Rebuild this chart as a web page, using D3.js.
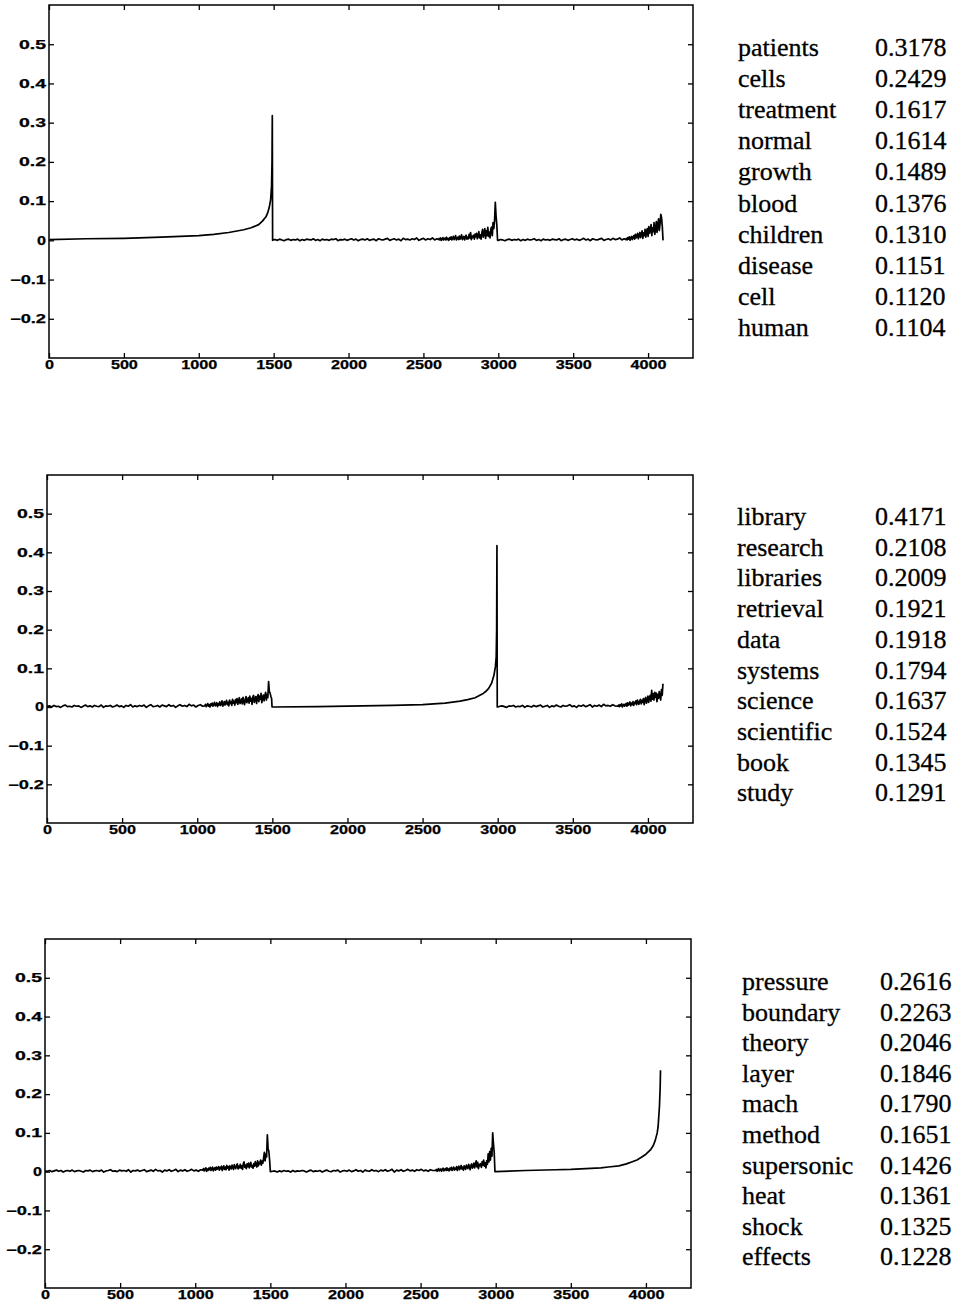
<!DOCTYPE html>
<html>
<head>
<meta charset="utf-8">
<script src="https://cdn.jsdelivr.net/npm/d3@7"></script>
<style>
body { margin: 0; background: #fff; }
svg { display: block; }
.tick text { font-family: "Liberation Sans", Arial, sans-serif; font-weight: bold; font-size: 12px; fill: #000; stroke: #000; stroke-width: 0.25px; }
.terms text { font-family: "Liberation Serif", "Times New Roman", serif; font-size: 26px; fill: #000; stroke: #000; stroke-width: 0.3px; }
</style>
</head>
<body>
<div id="chart"></div>
<script>
const W = 957, H = 1306;

// axis ticks
const xTicks = [0, 500, 1000, 1500, 2000, 2500, 3000, 3500, 4000];
const yTicks = [-0.2, -0.1, 0, 0.1, 0.2, 0.3, 0.4, 0.5];
const xDomain = [0, 4300];
const yDomain = [-0.3, 0.6];

// top terms of each topic
const medTerms = ["patients", "cells", "treatment", "normal", "growth", "blood", "children", "disease", "cell", "human"];
const medWeights = [0.3178, 0.2429, 0.1617, 0.1614, 0.1489, 0.1376, 0.1310, 0.1151, 0.1120, 0.1104];
const libTerms = ["library", "research", "libraries", "retrieval", "data", "systems", "science", "scientific", "book", "study"];
const libWeights = [0.4171, 0.2108, 0.2009, 0.1921, 0.1918, 0.1794, 0.1637, 0.1524, 0.1345, 0.1291];
const mechTerms = ["pressure", "boundary", "theory", "layer", "mach", "method", "supersonic", "heat", "shock", "effects"];
const mechWeights = [0.2616, 0.2263, 0.2046, 0.1846, 0.1790, 0.1651, 0.1426, 0.1361, 0.1325, 0.1228];

// ---- panel 1 vector (term index, weight) ----
const medRise = [[1,0.002],[250,0.004],[500,0.005],[750,0.008],[1000,0.012],[1100,0.015],[1200,0.020],[1300,0.027],
  [1350,0.032],[1400,0.040],[1425,0.049],[1450,0.061],[1460,0.070],[1470,0.083],[1480,0.104],[1486,0.138],
  [1489,0.2],[1491,0.3178],[1493,0.0]];
// from 1495, every 15
const medQuietA = [.001,.002,.000,.003,.001,-.001,.002,.003,.000,.002,
  .001,.003,-.001,.002,.000,.003,.002,.001,.004,.000,
  .002,-.001,.003,.001,.002,.000,.003,.002,.004,-.001,
  .002,.001,.003,.000,.002,.004,.001,.003,-.001,.002,
  .003,.001,.004,.000,.002,.003,-.001,.004,.002,.001,
  .003,.005,.000,.002,.004,.001,.003,-.001,.005,.002,
  .003,.001,.004,.002,.006,.000,.003,.005,.001,.004,
  .002,.006,.001,.004];
// from 2600, every 5
const medSpikyA = [.002,.005,.001,.006,.000,.004,.007,.001,.003,.006,
  .001,.008,.002,.004,.000,.007,.003,.009,.001,.005,
  .010,.002,.006,.012,.001,.004,.008,.002,.011,.003,
  .007,.014,.002,.006,.010,.001,.009,.013,.003,.008,
  .004,.015,.006,.020,.002,.011,.007,.013,.003,.016,
  .009,.018,.004,.012,.022,.006,.014,.003,.019,.028,
  .008,.017,.030,.005,.024,.012,.033,.010,.021,.006,
  .028,.034,.012,.045,.030,.050,.097,.062,.040,.000];
// from 3000, every 15
const medQuietB = [.000,.002,.001,-.001,.002,.003,.000,.002,.001,.003,
  -.001,.002,.000,.003,.001,.002,.004,.000,.002,-.001,
  .003,.001,.002,.000,.003,.002,.001,.004,-.001,.002,
  .003,.000,.002,.004,.001,.003,.000,.002,.005,.001,
  .003,-.001,.004,.002,.001,.003,.005,.000,.002,.004,
  .001,.005,.002,.003,.006,.001,.004];
// from 3850, every 5
const medSpikyB = [.002,.005,.001,.007,.003,.009,.000,.006,.010,.002,
  .008,.012,.003,.015,.006,.011,.018,.004,.013,.020,
  .007,.016,.024,.005,.019,.012,.028,.008,.022,.030,
  .010,.035,.018,.026,.040,.012,.032,.022,.045,.015,
  .030,.048,.020,.038,.055,.025,.042,.066,.058,.035,
  .000];

// ---- panel 2 vector ----
// from 1, every 15
const libQuietA = [.002,.003,.000,.004,.001,.002,-.001,.003,.005,.001,
  .002,.000,.004,.002,.003,-.001,.002,.005,.001,.003,
  .000,.004,.002,.001,.005,-.001,.003,.002,.004,.000,
  .002,.005,.001,.003,-.001,.004,.002,.006,.000,.003,
  .001,.004,.002,.005,-.001,.003,.006,.001,.002,.004,
  .000,.005,.003,.001,.006,.002,.004,-.001,.003,.006,
  .002,.004,.001,.007,.003,.005,.000,.004,.006,.002];
// from 1050, every 5
const libSpikyA = [.003,.007,.001,.005,.009,.002,.006,.000,.008,.004,
  .010,.002,.007,.012,.003,.006,.011,.001,.009,.005,
  .013,.004,.010,.016,.002,.008,.014,.005,.011,.017,
  .006,.012,.003,.018,.009,.014,.004,.020,.010,.015,
  .005,.019,.011,.022,.007,.016,.024,.009,.013,.021,
  .008,.025,.014,.006,.020,.027,.011,.018,.024,.010,
  .028,.015,.022,.007,.026,.030,.012,.019,.027,.009,
  .024,.032,.014,.028,.020,.035,.011,.025,.031,.016,
  .029,.038,.018,.033,.024,.066,.040,.036,.028,.022];
const libRise = [[1498,0.000],[1800,0.001],[2100,0.003],[2300,0.004],[2500,0.006],[2650,0.010],[2750,0.015],
  [2800,0.019],[2850,0.024],[2875,0.029],[2900,0.034],[2920,0.040],[2940,0.048],[2960,0.062],[2975,0.082],
  [2985,0.105],[2990,0.13],[2993,0.2],[2995,0.4171],[2997,0.0]];
// from 3000, every 15
const libQuietB = [.000,.002,.003,.001,-.001,.003,.002,.004,.000,.002,
  .001,.004,-.001,.003,.002,.000,.004,.001,.003,.005,
  .000,.002,.004,-.001,.003,.001,.005,.002,.000,.004,
  .002,.003,.006,.001,.003,-.001,.004,.002,.005,.001,
  .003,.006,.000,.004,.002,.005,.001,.007,.003,.004,
  .002,.006,.003];
// from 3800, every 5
const libSpikyB = [.002,.005,.001,.006,.003,.008,.000,.004,.007,.002,
  .006,.009,.002,.011,.005,.008,.013,.003,.010,.006,
  .014,.004,.012,.009,.016,.006,.018,.011,.007,.015,
  .020,.008,.017,.012,.022,.006,.019,.025,.010,.016,
  .028,.012,.024,.030,.015,.043,.020,.034,.018,.038,
  .025,.036,.014,.033,.022,.040,.028,.018,.045,.030,
  .060];

// ---- panel 3 vector ----
// from 1, every 15
const mechQuietA = [.002,.001,.003,.000,.002,.004,.001,.003,-.001,.002,
  .003,.001,.004,.000,.002,.003,.001,-.001,.003,.002,
  .004,.000,.002,.003,.001,.004,-.001,.002,.003,.005,
  .001,.002,.000,.004,.002,.003,.001,.005,-.001,.003,
  .002,.004,.001,.003,.005,.000,.002,.004,.001,.006,
  .002,.003,-.001,.004,.002,.005,.001,.003,.006,.000,
  .004,.002,.005,.001,.003,.006,.002,.004,.001,.005];
// from 1050, every 5
const mechSpikyA = [.004,.008,.002,.006,.010,.001,.007,.003,.009,.005,
  .011,.003,.008,.012,.002,.007,.010,.004,.012,.006,
  .009,.013,.004,.011,.007,.014,.003,.010,.015,.006,
  .012,.005,.016,.009,.013,.004,.015,.010,.007,.017,
  .011,.006,.018,.012,.008,.016,.020,.007,.014,.010,
  .019,.009,.015,.006,.021,.025,.011,.017,.008,.020,
  .013,.022,.010,.018,.024,.012,.016,.009,.021,.014,
  .026,.018,.012,.028,.015,.024,.020,.030,.017,.027,
  .022,.035,.050,.028,.045,.038,.095,.060,.052,.030];
// from 1500, every 15
const mechQuietB = [.000,.001,.002,-.001,.002,.000,.003,.001,.002,-.001,
  .003,.000,.002,.001,.003,.002,-.001,.002,.004,.000,
  .002,.001,.003,-.001,.002,.004,.001,.000,.003,.002,
  .004,-.001,.002,.003,.001,.004,.000,.002,.005,.001,
  .003,-.001,.004,.002,.001,.005,.002,.003,.000,.004,
  .002,.005,.001,.003,.006,-.001,.004,.002,.005,.001,
  .003,.006,.002,.004,.001,.005,.003,.006,.002,.004,
  .001,.005,.003];
// from 2600, every 5
const mechSpikyB = [.003,.006,.001,.005,.008,.002,.004,.007,.001,.006,
  .009,.002,.005,.008,.003,.010,.004,.007,.002,.009,
  .005,.011,.003,.008,.012,.004,.009,.006,.013,.003,
  .010,.014,.005,.009,.016,.007,.012,.004,.015,.010,
  .006,.017,.011,.008,.019,.013,.005,.016,.020,.009,
  .014,.022,.010,.018,.028,.012,.024,.008,.019,.015,
  .021,.011,.026,.017,.030,.014,.023,.010,.028,.019,
  .046,.025,.052,.030,.060,.040,.100,.072,.050,.000];
const mechRise = [[2998,0.0],[3200,0.003],[3400,0.005],[3500,0.006],[3600,0.008],[3700,0.010],[3750,0.012],
  [3820,0.015],[3870,0.020],[3905,0.025],[3940,0.030],[3970,0.037],[4000,0.045],[4030,0.056],[4050,0.068],
  [4063,0.082],[4075,0.100],[4081,0.116],[4090,0.168],[4095,0.22],[4097,0.2616]];

// weights sampled every `step` term indices from `start`
function seq(start, step, vals) {
  return vals.map((v, i) => [start + i * step, v]);
}

const panels = [
  {
    series: [...medRise, ...seq(1495, 15, medQuietA), ...seq(2600, 5, medSpikyA), ...seq(3000, 15, medQuietB), ...seq(3850, 5, medSpikyB)],
    terms: medTerms, weights: medWeights,
    box: {x0: 49, x1: 693, y0: 5, y1: 358},
    list: {wx: 738, nx: 875, y: 56, dy: 31.1}
  },
  {
    series: [...seq(1, 15, libQuietA), ...seq(1050, 5, libSpikyA), ...libRise, ...seq(3000, 15, libQuietB), ...seq(3800, 5, libSpikyB)],
    terms: libTerms, weights: libWeights,
    box: {x0: 47, x1: 693, y0: 475, y1: 823},
    list: {wx: 737, nx: 875, y: 525, dy: 30.7}
  },
  {
    series: [...seq(1, 15, mechQuietA), ...seq(1050, 5, mechSpikyA), ...seq(1500, 15, mechQuietB), ...seq(2600, 5, mechSpikyB), ...mechRise],
    terms: mechTerms, weights: mechWeights,
    box: {x0: 45, x1: 691, y0: 939, y1: 1288},
    list: {wx: 742, nx: 880, y: 990, dy: 30.6}
  }
];

const svg = d3.select("#chart").append("svg")
  .attr("width", W)
  .attr("height", H);

svg.append("rect").attr("width", W).attr("height", H).attr("fill", "#fff");

const fmtY = d => d === 0 ? "0" : d3.format(".1f")(d);
const noLabel = () => "";

panels.forEach(function(p) {
  const b = p.box;
  const x = d3.scaleLinear().domain(xDomain).range([b.x0, b.x1]);
  const y = d3.scaleLinear().domain(yDomain).range([b.y1, b.y0]);
  const g = svg.append("g");

  // matlab style: ticks inward on all four sides
  g.append("g").attr("transform", "translate(0," + b.y1 + ")")
    .call(d3.axisBottom(x).tickValues(xTicks).tickFormat(d3.format("d")).tickSizeInner(-5).tickSizeOuter(0).tickPadding(2));
  g.append("g").attr("transform", "translate(0," + b.y0 + ")")
    .call(d3.axisTop(x).tickValues(xTicks).tickFormat(noLabel).tickSizeInner(-5).tickSizeOuter(0));
  g.append("g").attr("transform", "translate(" + b.x0 + ",0)")
    .call(d3.axisLeft(y).tickValues(yTicks).tickFormat(fmtY).tickSizeInner(-5).tickSizeOuter(0).tickPadding(3));
  g.append("g").attr("transform", "translate(" + b.x1 + ",0)")
    .call(d3.axisRight(y).tickValues(yTicks).tickFormat(noLabel).tickSizeInner(-5).tickSizeOuter(0));

  g.selectAll(".domain").remove();
  g.selectAll(".tick line").attr("stroke", "#000").attr("stroke-width", 1.3);
  g.selectAll(".tick text")
    .filter(function() { return this.textContent.length > 0; })
    .attr("textLength", function() { return this.textContent.length * 9; })
    .attr("lengthAdjust", "spacingAndGlyphs");

  g.append("rect")
    .attr("x", b.x0).attr("y", b.y0)
    .attr("width", b.x1 - b.x0).attr("height", b.y1 - b.y0)
    .attr("fill", "none").attr("stroke", "#000").attr("stroke-width", 1.5);

  g.append("path")
    .datum(p.series)
    .attr("d", d3.line().x(d => x(d[0])).y(d => y(d[1])))
    .attr("fill", "none")
    .attr("stroke", "#000")
    .attr("stroke-width", 1.7)
    .attr("stroke-linejoin", "round");

  const l = p.list;
  const t = g.append("g").attr("class", "terms");
  t.selectAll(".word").data(p.terms).join("text")
    .attr("class", "word")
    .attr("x", l.wx)
    .attr("y", (d, i) => l.y + i * l.dy)
    .text(d => d);
  t.selectAll(".num").data(p.weights).join("text")
    .attr("class", "num")
    .attr("x", l.nx)
    .attr("y", (d, i) => l.y + i * l.dy)
    .text(d => d3.format(".4f")(d));
});
</script>
</body>
</html>
